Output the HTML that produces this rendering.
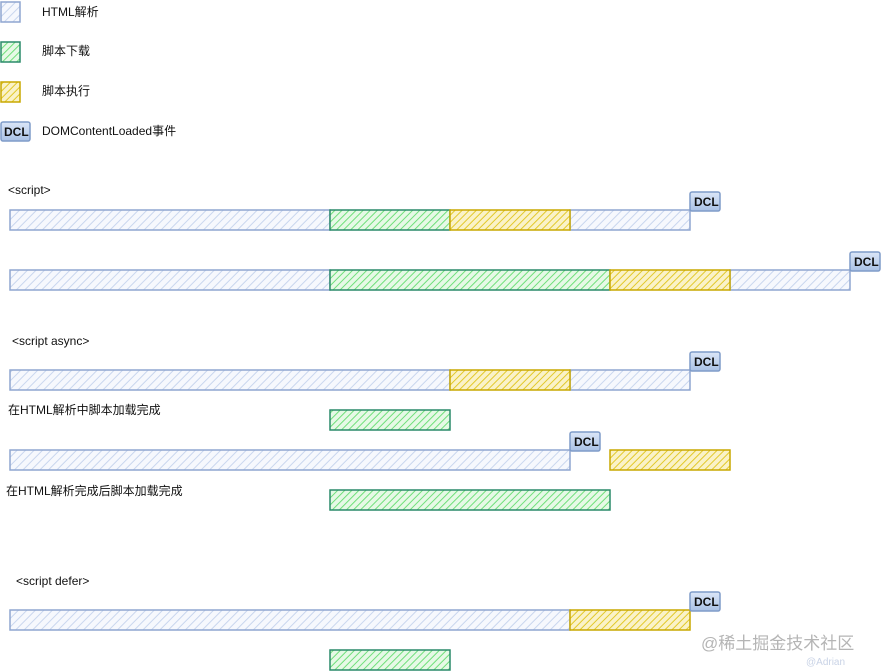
<!DOCTYPE html>
<html><head><meta charset="utf-8"><style>
html,body{margin:0;padding:0;background:#fff;width:881px;height:671px;overflow:hidden}
svg{display:block}
text{font-family:"Liberation Sans","Noto Sans CJK SC",sans-serif;font-size:12px;fill:#111}
</style></head><body>
<svg width="881" height="671" viewBox="0 0 881 671">
<defs>
<pattern id="hb" width="6" height="6" patternUnits="userSpaceOnUse" patternTransform="rotate(45)"><rect width="6" height="6" fill="#f6f8fd"/><line x1="0" y1="0" x2="0" y2="6" stroke="#c9d6ee" stroke-width="2"/></pattern>
<pattern id="hg" width="5" height="5" patternUnits="userSpaceOnUse" patternTransform="rotate(45)"><rect width="5" height="5" fill="#e6f9e6"/><line x1="0" y1="0" x2="0" y2="5" stroke="#6fe07a" stroke-width="2"/></pattern>
<pattern id="hy" width="5" height="5" patternUnits="userSpaceOnUse" patternTransform="rotate(45)"><rect width="5" height="5" fill="#faf2c8"/><line x1="0" y1="0" x2="0" y2="5" stroke="#e2c92a" stroke-width="2"/></pattern>
<linearGradient id="dg" x1="0" y1="0" x2="0" y2="1"><stop offset="0" stop-color="#dbe6f7"/><stop offset="1" stop-color="#a9c1e6"/></linearGradient>
</defs>
<g stroke-width="1.5">
<rect x="1" y="2" width="19" height="20" fill="url(#hb)" stroke="#8fa6d0"/>
<rect x="1" y="42" width="19" height="20" fill="url(#hg)" stroke="#2a8a6a"/>
<rect x="1" y="82" width="19" height="20" fill="url(#hy)" stroke="#c9a800"/>
<rect x="1" y="122" width="29" height="19" rx="2" fill="url(#dg)" stroke="#7f9bc8"/>
</g>
<text x="4" y="136" font-size="11" font-weight="bold">DCL</text>
<text x="42" y="16">HTML解析</text>
<text x="42" y="55">脚本下载</text>
<text x="42" y="95">脚本执行</text>
<text x="42" y="135">DOMContentLoaded事件</text>

<text x="8" y="194" font-size="11">&lt;script&gt;</text>
<text x="12" y="345" font-size="11">&lt;script async&gt;</text>
<text x="8" y="414">在HTML解析中脚本加载完成</text>
<text x="6" y="495">在HTML解析完成后脚本加载完成</text>
<text x="16" y="585" font-size="11">&lt;script defer&gt;</text>

<g stroke-width="1.5">
<rect x="10" y="210" width="320" height="20" fill="url(#hb)" stroke="#8fa6d0"/>
<rect x="570" y="210" width="120" height="20" fill="url(#hb)" stroke="#8fa6d0"/>
<rect x="330" y="210" width="120" height="20" fill="url(#hg)" stroke="#2a8a6a"/>
<rect x="450" y="210" width="120" height="20" fill="url(#hy)" stroke="#c9a800"/>
<rect x="10" y="270" width="320" height="20" fill="url(#hb)" stroke="#8fa6d0"/>
<rect x="730" y="270" width="120" height="20" fill="url(#hb)" stroke="#8fa6d0"/>
<rect x="330" y="270" width="280" height="20" fill="url(#hg)" stroke="#2a8a6a"/>
<rect x="610" y="270" width="120" height="20" fill="url(#hy)" stroke="#c9a800"/>
<rect x="10" y="370" width="440" height="20" fill="url(#hb)" stroke="#8fa6d0"/>
<rect x="570" y="370" width="120" height="20" fill="url(#hb)" stroke="#8fa6d0"/>
<rect x="450" y="370" width="120" height="20" fill="url(#hy)" stroke="#c9a800"/>
<rect x="330" y="410" width="120" height="20" fill="url(#hg)" stroke="#2a8a6a"/>
<rect x="10" y="450" width="560" height="20" fill="url(#hb)" stroke="#8fa6d0"/>
<rect x="610" y="450" width="120" height="20" fill="url(#hy)" stroke="#c9a800"/>
<rect x="330" y="490" width="280" height="20" fill="url(#hg)" stroke="#2a8a6a"/>
<rect x="10" y="610" width="560" height="20" fill="url(#hb)" stroke="#8fa6d0"/>
<rect x="570" y="610" width="120" height="20" fill="url(#hy)" stroke="#c9a800"/>
<rect x="330" y="650" width="120" height="20" fill="url(#hg)" stroke="#2a8a6a"/>
<rect x="690" y="192" width="30" height="19" rx="2" fill="url(#dg)" stroke="#7f9bc8"/>
<rect x="850" y="252" width="30" height="19" rx="2" fill="url(#dg)" stroke="#7f9bc8"/>
<rect x="690" y="352" width="30" height="19" rx="2" fill="url(#dg)" stroke="#7f9bc8"/>
<rect x="570" y="432" width="30" height="19" rx="2" fill="url(#dg)" stroke="#7f9bc8"/>
<rect x="690" y="592" width="30" height="19" rx="2" fill="url(#dg)" stroke="#7f9bc8"/>
</g>
<g>
<text x="694" y="206" font-size="11" font-weight="bold">DCL</text>
<text x="854" y="266" font-size="11" font-weight="bold">DCL</text>
<text x="694" y="366" font-size="11" font-weight="bold">DCL</text>
<text x="574" y="446" font-size="11" font-weight="bold">DCL</text>
<text x="694" y="606" font-size="11" font-weight="bold">DCL</text>
</g>
<text x="701" y="649" style="font-size:17px;fill:#b5b5b5">@稀土掘金技术社区</text>
<text x="806" y="665" style="font-size:10px;fill:#c9d3e6">@Adrian</text>
</svg>
</body></html>
